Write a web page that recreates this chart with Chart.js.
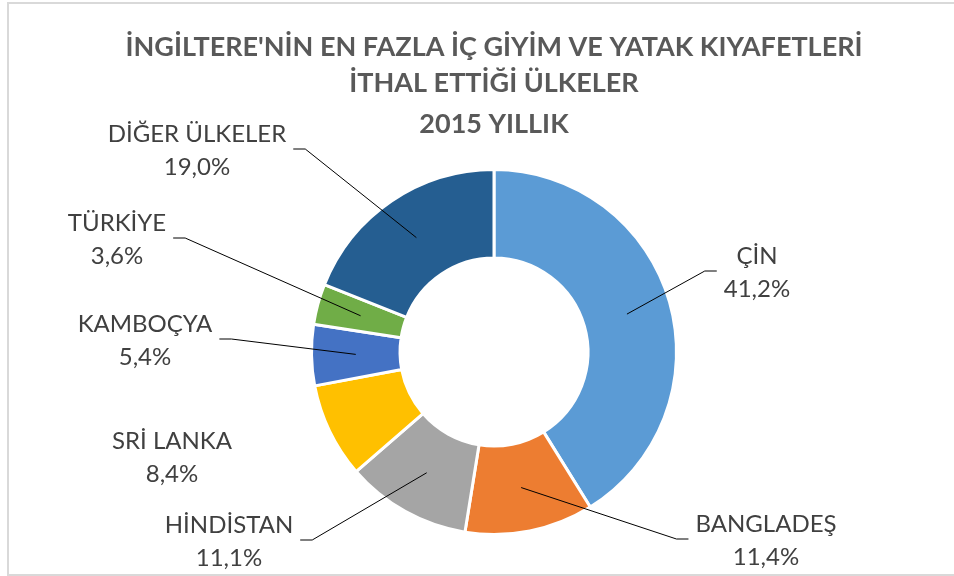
<!DOCTYPE html>
<html>
<head>
<meta charset="utf-8">
<script src="https://cdn.jsdelivr.net/npm/chart.js@4.4.1/dist/chart.umd.min.js"></script>
<style>
html,body{margin:0;padding:0;background:#fff;overflow:hidden}
#wrap{position:relative;width:954px;height:576px;overflow:hidden}
#frame{position:absolute;left:7px;top:2px;width:960px;height:570px;border:2px solid #d9d9d9}
canvas{position:absolute;left:0;top:0}
</style>
</head>
<body>
<div id="wrap">
<div id="frame"></div>
<canvas id="pie" width="954" height="576"></canvas>
</div>
<script>

const countries = ["ÇİN","BANGLADEŞ","HİNDİSTAN","SRİ LANKA","KAMBOÇYA","TÜRKİYE","DİĞER ÜLKELER"]
const shares = [41.2,11.4,11.1,8.4,5.4,3.6,19.0]
const sliceColors = ["#5B9BD5","#ED7D31","#A5A5A5","#FFC000","#4472C4","#70AD47","#255E91"]

// label block centre, relative to the doughnut centre
const labelOffsets = [[263,-79],[272,189],[-265,190],[-322,106],[-349,-11],[-377,-112],[-297,-201]]
const hasLeader = [true,true,true,false,true,true,true]

const titleLines = ["İNGİLTERE'NİN EN FAZLA İÇ GİYİM VE YATAK KIYAFETLERİ","İTHAL ETTİĞİ ÜLKELER"]
const subtitleText = "2015 YILLIK"


function fmt(v){
return v.toFixed(1).replace(".",",")+"%"
}


const outsideLabels = {

id:"outsideLabels",

afterDatasetsDraw(chart){

const ctx=chart.ctx
const meta=chart.getDatasetMeta(0)

ctx.save()
ctx.font="24px Lato"
ctx.fillStyle="#404040"
ctx.strokeStyle="#000"
ctx.lineWidth=1
ctx.textAlign="center"
ctx.textBaseline="middle"

meta.data.forEach((arc,i)=>{

let bx=arc.x+labelOffsets[i][0]
let by=arc.y+labelOffsets[i][1]
let line1=countries[i]
let line2=fmt(shares[i])

ctx.fillText(line1,bx,by-16.5)
ctx.fillText(line2,bx,by+16.5)

if(!hasLeader[i]) return

let w=Math.max(ctx.measureText(line1).width,ctx.measureText(line2).width)
let c=arc.getCenterPoint()
let side=bx>arc.x ? -1 : 1
let edge=bx+side*(w/2+7)
let elbow=edge+side*12

ctx.beginPath()
ctx.moveTo(c.x,c.y)
ctx.lineTo(elbow,by-2)
ctx.lineTo(edge,by-2)
ctx.stroke()

})

ctx.restore()

}

}


new Chart(document.getElementById("pie"),{

type:"doughnut",

data:{
labels:countries,
datasets:[{
data:shares,
backgroundColor:sliceColors,
borderColor:"#ffffff",
borderWidth:3,
hoverOffset:0
}]
},

options:{
responsive:false,
animation:false,
cutout:"51.5%",
layout:{
padding:{left:100,right:66,bottom:40,top:0}
},
plugins:{
legend:{display:false},
tooltip:{enabled:false},
title:{
display:true,
text:titleLines,
color:"#595959",
font:{family:"Lato",size:27,weight:"bold",lineHeight:1.3334},
padding:{top:29,bottom:5}
},
subtitle:{
display:true,
text:subtitleText,
color:"#595959",
font:{family:"Lato",size:27,weight:"bold",lineHeight:1.3334},
padding:{top:0,bottom:26}
}
}
},

plugins:[outsideLabels]

})

</script>
</body>
</html>
